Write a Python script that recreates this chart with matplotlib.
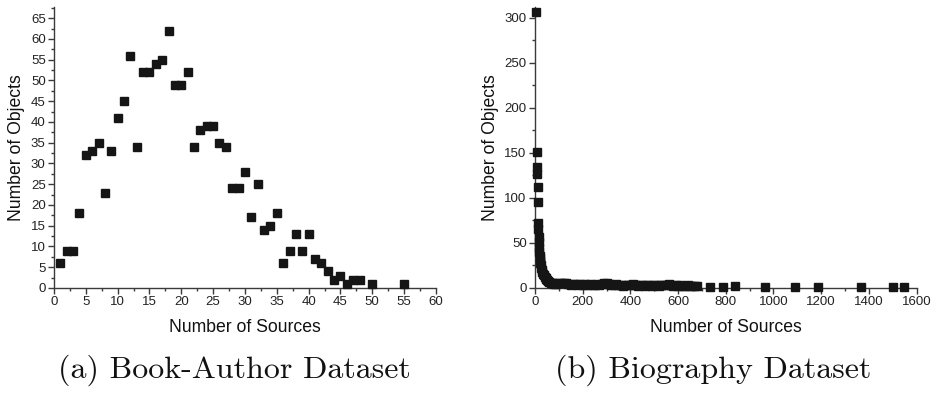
import matplotlib
matplotlib.use("Agg")
import matplotlib.pyplot as plt
from matplotlib.ticker import MultipleLocator

# --- data: Book-Author dataset ---
book_sources = [1, 2, 3, 4, 5, 6, 7, 8, 9, 10, 11, 12, 13, 14, 15, 16, 17, 18, 19, 20,
                21, 22, 23, 24, 25, 26, 27, 28, 29, 30, 31, 32, 33, 34, 35, 36, 37, 38, 39, 40,
                41, 42, 43, 44, 45, 46, 47, 48, 50, 55]
book_objects = [6, 9, 9, 18, 32, 33, 35, 23, 33, 41, 45, 56, 34, 52, 52, 54, 55, 62, 49, 49,
                52, 34, 38, 39, 39, 35, 34, 24, 24, 28, 17, 25, 14, 15, 18, 6, 9, 13, 9, 13,
                7, 6, 4, 2, 3, 1, 2, 2, 1, 1]

# --- data: Biography dataset ---
bio_head_sources = [6, 8, 9, 10, 11, 12, 13, 14, 15, 16, 17, 18, 19, 20, 21, 22, 24, 26, 28, 30,
                    33, 36, 40, 44, 48, 52, 56, 60, 65, 70, 75, 80]
bio_head_objects = [307, 151, 134, 127, 112, 96, 72, 65, 57, 51, 44, 40, 36, 33, 30, 28, 25, 22, 20, 18,
                    16, 14, 12, 11, 10, 9, 8, 7, 6, 5, 5, 4]
bio_tail_sources = [90, 100, 110, 120, 130, 140, 150, 160, 170, 180, 190, 200, 210, 220, 230, 240,
                    250, 260, 270, 280, 290, 300, 310, 320, 330, 340, 350, 360, 370, 380, 390, 400,
                    410, 420, 430, 440, 450, 460, 470, 480, 490, 500, 510, 520, 530, 540, 550, 560,
                    570, 580, 590, 600, 610, 620, 630, 640, 650, 660, 670, 680]
bio_tail_objects = [4, 5, 6, 5, 6, 4, 3, 4, 4, 3, 4, 3, 4, 3, 4, 3,
                    3, 4, 3, 4, 5, 6, 4, 3, 3, 4, 3, 3, 2, 3, 3, 3,
                    4, 3, 2, 3, 3, 2, 3, 3, 2, 3, 3, 2, 3, 3, 3, 4,
                    3, 2, 3, 2, 3, 2, 2, 3, 2, 2, 2, 2]
bio_far_sources = [734, 790, 839, 966, 1091, 1186, 1368, 1503, 1549]
bio_far_objects = [1, 1, 2, 1, 1, 1, 1, 1, 1]

bio_sources = bio_head_sources + bio_tail_sources + bio_far_sources
bio_objects = bio_head_objects + bio_tail_objects + bio_far_objects

plt.rcParams['font.family'] = ['Liberation Sans', 'DejaVu Sans']

AX_COL = '#3a3a3a'
MK_COL = '#151515'

fig = plt.figure(figsize=(9.36, 4.01), dpi=100)
ax1 = fig.add_axes([0.0577, 0.2818, 0.408, 0.7007])
ax2 = fig.add_axes([0.5716, 0.2818, 0.4076, 0.7007])


def style_axes(ax):
    for s in ['top', 'right']:
        ax.spines[s].set_visible(False)
    for s in ['left', 'bottom']:
        ax.spines[s].set_color(AX_COL)
        ax.spines[s].set_linewidth(1.0)
    ax.tick_params(which='major', direction='out', length=4, width=1, color=AX_COL,
                   labelsize=9.5, labelcolor='#222222', pad=2)
    ax.tick_params(which='minor', direction='out', length=2.5, width=1, color=AX_COL)
    ax.set_xlabel('Number of Sources', fontsize=12.7, color='#111111', labelpad=8)
    ax.set_ylabel('Number of Objects', fontsize=12.7, color='#111111', labelpad=4)


ax1.plot(book_sources, book_objects, 's', color=MK_COL, markersize=5.4, clip_on=False, zorder=3)
ax1.set_xlim(0, 60)
ax1.set_ylim(0, 67.7)
ax1.xaxis.set_major_locator(MultipleLocator(5))
ax1.xaxis.set_minor_locator(MultipleLocator(2.5))
ax1.yaxis.set_major_locator(MultipleLocator(5))
ax1.yaxis.set_minor_locator(MultipleLocator(2.5))
style_axes(ax1)

ax2.plot(bio_sources, bio_objects, 's', color=MK_COL, markersize=5.4, clip_on=False, zorder=3)
ax2.set_xlim(0, 1600)
ax2.set_ylim(0, 312)
ax2.xaxis.set_major_locator(MultipleLocator(200))
ax2.xaxis.set_minor_locator(MultipleLocator(100))
ax2.yaxis.set_major_locator(MultipleLocator(50))
ax2.yaxis.set_minor_locator(MultipleLocator(25))
style_axes(ax2)

fig.text(0.250, 0.077, '(a) Book-Author Dataset', family='cmr10', fontsize=23,
         ha='center', va='center', color='#111111')
fig.text(0.762, 0.077, '(b) Biography Dataset', family='cmr10', fontsize=23,
         ha='center', va='center', color='#111111')

fig.savefig('out.png', dpi=100)
